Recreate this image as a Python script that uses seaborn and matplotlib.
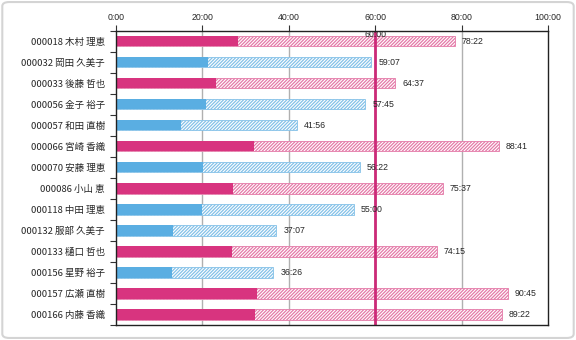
import numpy as np
import pandas as pd
import matplotlib
matplotlib.use("Agg")
import matplotlib.pyplot as plt
import seaborn as sns
from matplotlib.patches import FancyBboxPatch

# ---- data ----
ids = ["000018", "000032", "000033", "000056", "000057", "000066", "000070",
       "000086", "000118", "000132", "000133", "000156", "000157", "000166"]
names = ["木村 理恵", "岡田 久美子", "後藤 哲也", "金子 裕子", "和田 直樹", "宮崎 香織", "安藤 理恵",
         "小山 恵", "中田 理恵", "服部 久美子", "樋口 哲也", "星野 裕子", "広瀬 直樹", "内藤 香織"]
solid_min = [28.3, 21.4, 23.1, 20.8, 15.0, 32.0, 20.2, 27.0, 19.8, 13.3, 26.8, 13.0, 32.7, 32.2]
totals = ["78:22", "59:07", "64:37", "57:45", "41:56", "88:41", "56:22",
          "75:37", "55:00", "37:07", "74:15", "36:26", "90:45", "89:22"]
xtick_vals = [0, 20, 40, 60, 80, 100]
xtick_labels = ["0:00", "20:00", "40:00", "60:00", "80:00", "100:00"]
threshold = 60
threshold_label = "60:00"

def to_min(s):
    m, sec = s.split(":")
    return int(m) + int(sec) / 60.0

labels = [f"{i} {n}" for i, n in zip(ids, names)]
total_min = [to_min(t) for t in totals]
group = ["over" if t > threshold else "under" for t in total_min]
df = pd.DataFrame({"label": labels, "total": total_min, "solid": solid_min, "group": group})

PINK = "#d8347f"
BLUE = "#5aaee2"
PINK_H = "#e47aa8"
BLUE_H = "#84c1e8"
NUMFONT = ["Liberation Sans", "DejaVu Sans"]

sns.set_style("white")
plt.rcParams["font.family"] = ["Noto Sans CJK JP", "DejaVu Sans"]
plt.rcParams["hatch.linewidth"] = 0.9

fig = plt.figure(figsize=(5.76, 3.4), dpi=100)
ax = fig.add_axes([116 / 576, 1 - 325 / 340, 432 / 576, 294.5 / 340])

# hatched totals
sns.barplot(data=df, x="total", y="label", orient="h", width=0.5, color="white",
            saturation=1, ax=ax, zorder=2)
for p, g in zip(ax.patches[:len(df)], df["group"]):
    hc = PINK_H if g == "over" else BLUE_H
    p.set_facecolor("white")
    p.set_edgecolor(hc)
    p.set_hatch("//////////")
    p.set_linewidth(0.6)

# solid part
sns.barplot(data=df, x="solid", y="label", orient="h", width=0.5, hue="group",
            palette={"over": PINK, "under": BLUE}, saturation=1, dodge=False,
            legend=False, ax=ax, zorder=3, linewidth=0)

ax.set_xlim(0, 100)
ax.set_ylim(len(df) - 0.5, -0.5)
ax.set_xlabel("")
ax.set_ylabel("")

# grid
for v in xtick_vals[1:-1]:
    ax.axvline(v, color="#b0b0b0", lw=1, zorder=1)
ax.axvline(threshold, color="#cc2a78", lw=2, zorder=4)
ax.text(threshold, -0.32, threshold_label, ha="center", va="center",
        fontsize=6.3, family=NUMFONT, zorder=5)

# value labels
for i, (t, s) in enumerate(zip(df["total"], totals)):
    ax.annotate(s, (t, i), xytext=(5, 0), textcoords="offset points",
                ha="left", va="center", fontsize=6.3, family=NUMFONT, zorder=5)

# axes styling
ax.xaxis.tick_top()
ax.set_xticks(xtick_vals)
ax.set_xticklabels(xtick_labels, fontsize=6.3, family=NUMFONT)
ax.tick_params(axis="x", which="major", direction="out", length=4, width=0.8,
               color="#333333", pad=2, top=True, bottom=False)
ax.set_yticks(range(len(df)))
ax.set_yticklabels(labels, fontsize=6.8)
ax.set_yticks(np.arange(-0.5, len(df), 1), minor=True)
ax.tick_params(axis="y", which="major", length=0, pad=8)
ax.tick_params(axis="y", which="minor", direction="out", length=4, width=0.8,
               color="#333333", left=True)
for sp in ax.spines.values():
    sp.set_visible(True)
    sp.set_color("#222222")
    sp.set_linewidth(1.0)
    sp.set_zorder(6)

fig.patches.append(FancyBboxPatch((0.004, 0.006), 0.992, 0.988,
                                  boxstyle="round,pad=0,rounding_size=0.012",
                                  transform=fig.transFigure, fill=False,
                                  edgecolor="#d4d4d4", lw=1.5))

fig.savefig("out.png", dpi=100)
